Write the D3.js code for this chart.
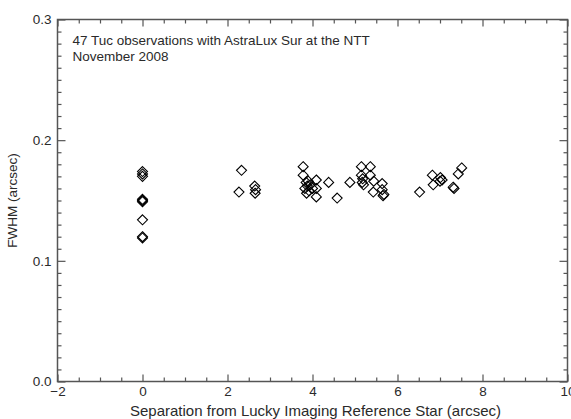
<!DOCTYPE html>
<html lang="en">
<head>
  <meta charset="UTF-8">
  <title>47 Tuc FWHM</title>
  <script src="https://d3js.org/d3.v7.min.js"></script>
  <style>
    body { margin: 0; background: #fff; }
    text { font-family: "Liberation Sans", Arial, sans-serif; fill: #2a2a2a; }
  </style>
</head>
<body>
  <svg id="fwhm" width="571" height="419"></svg>
  <script>
    // separation from reference star (arcsec)
    const separation = [
      0, 0, 0, 0, 0, 0, 0, 0, 0,
      2.33, 2.27, 2.64, 2.66, 2.65,
      3.78, 3.78, 3.85, 3.88, 3.82, 3.92, 3.86, 3.95, 3.90, 4.00,
      4.09, 4.09, 4.09, 4.38, 4.58, 4.88,
      5.15, 5.36, 5.15, 5.18, 5.17, 5.20, 5.36, 5.44, 5.64, 5.43, 5.64, 5.68, 5.66,
      6.52, 6.82, 6.84, 7.01, 7.05, 7.00, 7.31, 7.33, 7.43, 7.51
    ];
    // measured FWHM (arcsec)
    const fwhm = [
      0.174, 0.172, 0.170, 0.151, 0.150, 0.149, 0.134, 0.120, 0.119,
      0.175, 0.157, 0.162, 0.159, 0.156,
      0.178, 0.171, 0.165, 0.162, 0.160, 0.158, 0.156, 0.163, 0.166, 0.160,
      0.167, 0.160, 0.153, 0.165, 0.152, 0.165,
      0.178, 0.178, 0.171, 0.168, 0.165, 0.163, 0.171, 0.166, 0.164, 0.157, 0.159, 0.155, 0.154,
      0.157, 0.171, 0.163, 0.169, 0.167, 0.166, 0.161, 0.160, 0.172, 0.177
    ];
    const xTicks = [-2, 0, 2, 4, 6, 8, 10];
    const yTicks = [0.0, 0.1, 0.2, 0.3];
    const notes = ['47 Tuc observations with AstraLux Sur at the NTT', 'November 2008'];

    const svg = d3.select('svg#fwhm');
    const margin = { top: 19.5, right: 3.5, bottom: 37.5, left: 57.5 };
    const width = +svg.attr('width');
    const height = +svg.attr('height');
    const chartWidth = width - margin.left - margin.right;
    const chartHeight = height - margin.top - margin.bottom;

    const xScale = d3.scaleLinear().domain([-2, 10]).range([0, chartWidth]);
    const yScale = d3.scaleLinear().domain([0, 0.3]).range([chartHeight, 0]);

    const chart = svg.append('g')
      .attr('transform', 'translate(' + margin.left + ',' + margin.top + ')');

    const axisColor = '#555';
    const xMinor = d3.range(-2, 10.01, 0.5).filter(v => v % 2 !== 0);
    const yMinor = d3.range(0, 0.3001, 0.01).map(v => +v.toFixed(2)).filter(v => Math.round(v * 100) % 10 !== 0);

    // ticks on all four sides, pointing in
    function drawAxis(axis, transform, isLabelled) {
      const g = chart.append('g').attr('transform', transform).call(axis);
      g.select('.domain').remove();
      g.selectAll('line').attr('stroke', axisColor).attr('stroke-width', 1.2);
      g.selectAll('text').style('font-size', '13.5px').style('font-family', '"Liberation Sans", Arial, sans-serif').attr('fill', '#2a2a2a');
      if (!isLabelled) g.selectAll('text').remove();
      return g;
    }

    drawAxis(d3.axisBottom(xScale).tickValues(xTicks).tickSize(-7).tickPadding(5).tickFormat(d3.format('d')),
      'translate(0,' + chartHeight + ')', true);
    drawAxis(d3.axisBottom(xScale).tickValues(xMinor).tickSize(-4), 'translate(0,' + chartHeight + ')', false);
    drawAxis(d3.axisTop(xScale).tickValues(xTicks).tickSize(-7), 'translate(0,0)', false);
    drawAxis(d3.axisTop(xScale).tickValues(xMinor).tickSize(-4), 'translate(0,0)', false);

    drawAxis(d3.axisLeft(yScale).tickValues(yTicks).tickSize(-8).tickPadding(6).tickFormat(d3.format('.1f')),
      'translate(0,0)', true);
    drawAxis(d3.axisLeft(yScale).tickValues(yMinor).tickSize(-4), 'translate(0,0)', false);
    drawAxis(d3.axisRight(yScale).tickValues(yTicks).tickSize(-8), 'translate(' + chartWidth + ',0)', false);
    drawAxis(d3.axisRight(yScale).tickValues(yMinor).tickSize(-4), 'translate(' + chartWidth + ',0)', false);

    // frame
    chart.append('rect')
      .attr('width', chartWidth).attr('height', chartHeight)
      .attr('fill', 'none').attr('stroke', axisColor).attr('stroke-width', 1.5);

    // diamonds
    const r = 5;
    const diamond = 'M0,' + (-r) + 'L' + r + ',0L0,' + r + 'L' + (-r) + ',0Z';
    chart.append('g').selectAll('path')
      .data(separation.map((s, i) => ({ x: s, y: fwhm[i] })))
      .join('path')
      .attr('d', diamond)
      .attr('transform', d => 'translate(' + xScale(d.x) + ',' + yScale(d.y) + ')')
      .attr('fill', 'none')
      .attr('stroke', '#000')
      .attr('stroke-width', 1.1);

    // annotations
    chart.append('g').selectAll('text')
      .data(notes)
      .join('text')
      .attr('x', 15)
      .attr('y', (d, i) => 25 + i * 16)
      .style('font-size', '13.5px')
      .text(d => d);

    svg.append('text')
      .attr('x', margin.left + chartWidth / 2 + 3)
      .attr('y', height - 3)
      .attr('text-anchor', 'middle')
      .style('font-size', '15px')
      .text('Separation from Lucky Imaging Reference Star (arcsec)');

    svg.append('text')
      .attr('transform', 'translate(17,' + (margin.top + chartHeight / 2) + ') rotate(-90)')
      .attr('text-anchor', 'middle')
      .style('font-size', '13.5px')
      .text('FWHM (arcsec)');
  </script>
</body>
</html>
